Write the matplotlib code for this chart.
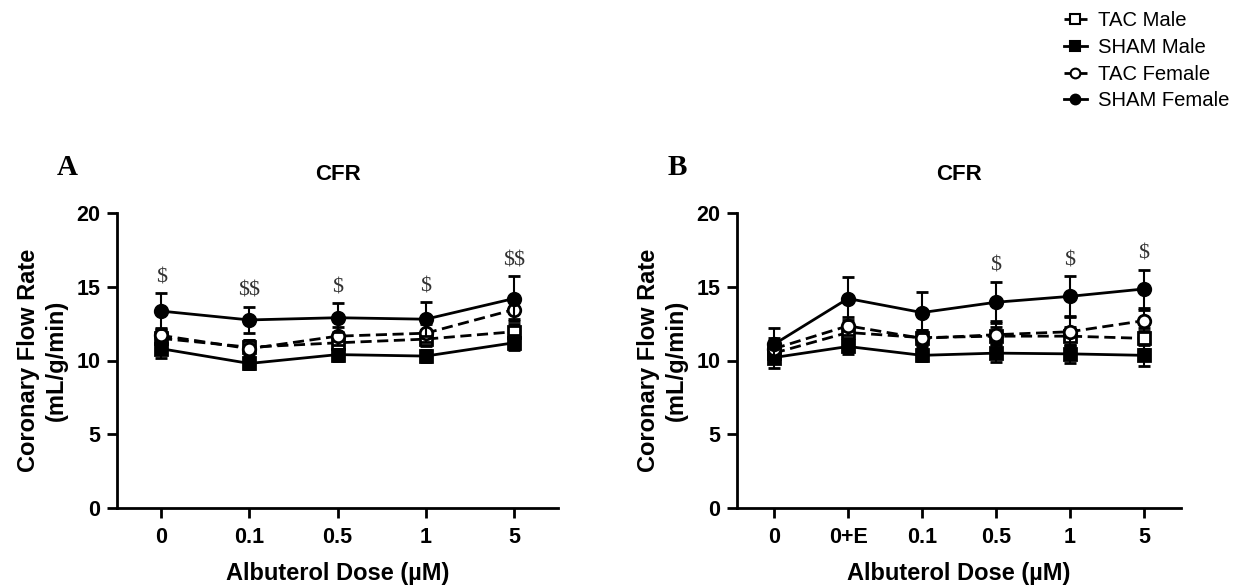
import numpy as np
import matplotlib.pyplot as plt
import matplotlib

matplotlib.rcParams["font.family"] = ["Liberation Sans", "DejaVu Sans"]
matplotlib.rcParams["axes.linewidth"] = 2

# panel A data
dose_a = ["0", "0.1", "0.5", "1", "5"]
tac_m_a = [11.5, 10.9, 11.2, 11.45, 11.95]
tac_m_a_sem = [0.6, 0.5, 0.6, 0.5, 0.55]
sham_m_a = [10.8, 9.8, 10.4, 10.3, 11.2]
sham_m_a_sem = [0.6, 0.4, 0.4, 0.4, 0.5]
tac_f_a = [11.7, 10.8, 11.65, 11.85, 13.45]
tac_f_a_sem = [0.5, 0.6, 0.6, 0.6, 0.65]
sham_f_a = [13.35, 12.75, 12.9, 12.8, 14.2]
sham_f_a_sem = [1.2, 0.9, 1.0, 1.15, 1.5]
sig_a = ["$", "$$", "$", "$", "$$"]

# panel B data
dose_b = ["0", "0+E", "0.1", "0.5", "1", "5"]
tac_m_b = [10.5, 11.9, 11.55, 11.65, 11.65, 11.5]
tac_m_b_sem = [0.6, 0.6, 0.5, 0.6, 0.6, 0.7]
sham_m_b = [10.2, 10.95, 10.35, 10.5, 10.45, 10.35]
sham_m_b_sem = [0.7, 0.5, 0.4, 0.6, 0.6, 0.7]
tac_f_b = [10.8, 12.35, 11.5, 11.75, 11.95, 12.7]
tac_f_b_sem = [0.7, 0.6, 0.6, 0.9, 1.0, 0.7]
sham_f_b = [11.1, 14.2, 13.25, 13.95, 14.35, 14.85]
sham_f_b_sem = [1.1, 1.45, 1.4, 1.4, 1.35, 1.3]
sig_b = ["", "", "", "$", "$", "$"]

groups = ["TAC Male", "SHAM Male", "TAC Female", "SHAM Female"]
markers = ["s", "s", "o", "o"]
filled = [False, True, False, True]
styles = ["--", "-", "--", "-"]

fig = plt.figure(figsize=(12.42, 5.86), dpi=100)
ax_a = fig.add_axes([117 / 1242, 78 / 586, 441 / 1242, 295 / 586])
ax_b = fig.add_axes([737 / 1242, 78 / 586, 444 / 1242, 295 / 586])


def draw_panel(ax, labels, series, sems, sig, letter, letter_x):
    x = np.arange(len(labels))
    for i, (y, e) in enumerate(zip(series, sems)):
        ax.errorbar(x, y, yerr=e, color="black", ls=styles[i], lw=2,
                    marker=markers[i], ms=9,
                    mfc="black" if filled[i] else "white",
                    mec="black", mew=2, capsize=4.5, capthick=1.5,
                    elinewidth=1.5, dashes=(4, 2) if styles[i] == "--" else (None, None),
                    zorder=3 + i)
    top = np.array(series[-1]) + np.array(sems[-1])
    for xi, t, s in zip(x, top, sig):
        if s:
            ax.text(xi, t + 0.4, s, ha="center", va="bottom", fontsize=16,
                    family="Liberation Serif", color="#333333", parse_math=False)
    ax.set_xlim(-0.5, len(labels) - 0.5)
    ax.set_ylim(0, 20)
    ax.set_yticks([0, 5, 10, 15, 20])
    ax.set_xticks(x)
    ax.set_xticklabels(labels)
    ax.spines["top"].set_visible(False)
    ax.spines["right"].set_visible(False)
    ax.tick_params(width=2, length=7, labelsize=15.5, pad=5)
    ax.tick_params(axis="x", pad=7)
    for lab in ax.get_xticklabels() + ax.get_yticklabels():
        lab.set_fontweight("bold")
    ax.set_xlabel("Albuterol Dose (µM)", fontsize=17, fontweight="bold", labelpad=10)
    ax.set_ylabel("Coronary Flow Rate\n(mL/g/min)", fontsize=17, fontweight="bold",
                  labelpad=6, linespacing=1.3)
    ax.set_title("CFR", fontsize=16, fontweight="bold", pad=24)
    ax.text(letter_x, 1.153, letter, transform=ax.transAxes, fontsize=21,
            fontweight="bold", family="Liberation Serif", ha="center", va="center")


draw_panel(ax_a, dose_a, [tac_m_a, sham_m_a, tac_f_a, sham_f_a],
           [tac_m_a_sem, sham_m_a_sem, tac_f_a_sem, sham_f_a_sem], sig_a, "A", -0.113)
draw_panel(ax_b, dose_b, [tac_m_b, sham_m_b, tac_f_b, sham_f_b],
           [tac_m_b_sem, sham_m_b_sem, tac_f_b_sem, sham_f_b_sem], sig_b, "B", -0.135)

# legend handles without error bars
leg_handles = []
for i in range(4):
    ln, = ax_b.plot([], [], color="black", ls=styles[i], lw=2, marker=markers[i], ms=7,
                    mfc="black" if filled[i] else "white", mec="black", mew=1.5)
    leg_handles.append(ln)
fig.legend(leg_handles, groups, loc="upper left", bbox_to_anchor=(1046 / 1242, 1 + 7 / 586),
           frameon=False, fontsize=14.6, handlelength=1.1, labelspacing=0.38, handletextpad=0.55)

plt.savefig("out.png", dpi=100)
